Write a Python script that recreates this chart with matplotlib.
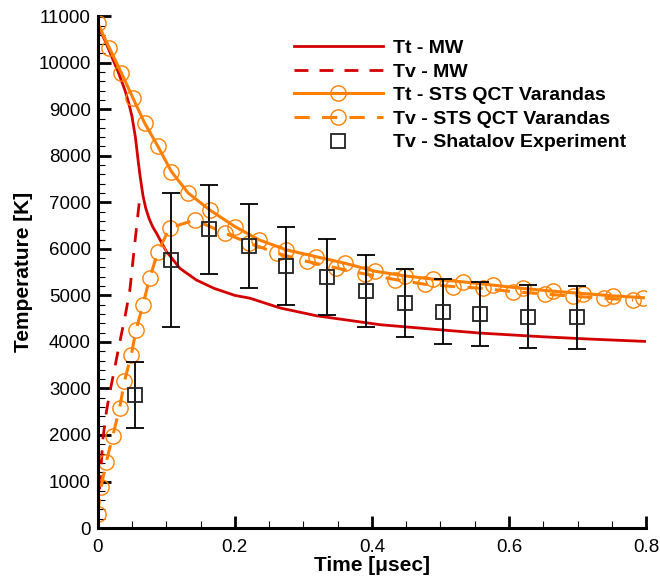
import numpy as np
import matplotlib
matplotlib.use('Agg')
import matplotlib.pyplot as plt
from matplotlib.ticker import MultipleLocator

plt.rcParams['font.family'] = ['Liberation Sans', 'DejaVu Sans']

# Tt - MW (solid red)
t_tt_mw = [0, 0.01, 0.02, 0.03, 0.04, 0.045, 0.05, 0.055, 0.059, 0.062, 0.066, 0.07, 0.075,
           0.08, 0.086, 0.1, 0.12, 0.144, 0.17, 0.2, 0.222, 0.266, 0.32, 0.412, 0.5, 0.558,
           0.65, 0.72, 0.8]
T_tt_mw = [10800, 10500, 10150, 9800, 9400, 9150, 8850, 8400, 7900, 7550, 7150, 6880, 6650,
           6480, 6330, 5950, 5580, 5330, 5150, 5000, 4940, 4730, 4560, 4370, 4260, 4190,
           4110, 4060, 4010]

# Tv - MW (dashed red)
t_tv_mw = [0, 0.003, 0.0054, 0.0078, 0.0127, 0.0175, 0.025, 0.032, 0.04, 0.047, 0.054, 0.061, 0.065]
T_tv_mw = [300, 890, 1430, 1940, 2500, 2900, 3450, 3980, 4550, 5120, 6100, 7050, 7150]

# Tt - STS QCT Varandas (solid orange, circles)
t_tt_var = [0, 0.017, 0.0346, 0.0515, 0.0686, 0.088, 0.1076, 0.132, 0.164, 0.2, 0.236, 0.275,
            0.319, 0.361, 0.404, 0.448, 0.489, 0.533, 0.577, 0.62, 0.664, 0.708, 0.752, 0.796]
T_tt_var = [10850, 10320, 9780, 9240, 8700, 8200, 7660, 7200, 6830, 6480, 6190, 5980,
            5830, 5690, 5520, 5420, 5350, 5290, 5220, 5150, 5090, 5040, 4990, 4950]

# Tv - STS QCT Varandas (dashed orange, circles)
t_tv_var = [0, 0.005, 0.0127, 0.022, 0.032, 0.039, 0.049, 0.056, 0.066, 0.076, 0.088, 0.105,
            0.142, 0.185, 0.22, 0.261, 0.305, 0.348, 0.39, 0.434, 0.477, 0.519, 0.5625,
            0.606, 0.6526, 0.694, 0.738, 0.781]
T_tv_var = [300, 890, 1430, 1980, 2580, 3150, 3720, 4260, 4800, 5380, 5940, 6450,
            6620, 6340, 6130, 5910, 5730, 5590, 5460, 5340, 5240, 5190, 5150,
            5080, 5030, 4980, 4940, 4900]

# Tv - Shatalov Experiment
t_exp = [0.055, 0.107, 0.162, 0.22, 0.275, 0.334, 0.392, 0.448, 0.503, 0.558, 0.628, 0.699]
T_exp = [2860, 5760, 6420, 6060, 5630, 5400, 5100, 4830, 4650, 4600, 4545, 4525]
T_err = [710, 1440, 957, 906, 842, 813, 770, 727, 700, 680, 680, 680]

red = '#d40000'
orange = '#ff8000'

fig = plt.figure(figsize=(6.6, 5.79), dpi=100)
ax = fig.add_axes([0.148, 0.088, 0.831, 0.884])

ax.plot(t_tt_mw, T_tt_mw, color=red, lw=2, label='Tt - MW')
ax.plot(t_tv_mw, T_tv_mw, color=red, lw=2, dashes=(5, 4), label='Tv - MW')
ax.plot(t_tt_var, T_tt_var, color=orange, lw=2.2, marker='o', ms=11,
        mfc='none', mec=orange, mew=1, label='Tt - STS QCT Varandas')
ax.plot(t_tv_var, T_tv_var, color=orange, lw=2.2, dashes=(5, 4), marker='o', ms=11,
        mfc='none', mec=orange, mew=1, label='Tv - STS QCT Varandas')
ax.errorbar(t_exp, T_exp, yerr=T_err, fmt='none', ecolor='black', elinewidth=1.3,
            capsize=6.5, capthick=1.3)
ax.plot(t_exp, T_exp, ls='none', marker='s', ms=9.5, mfc='none', mec='#222222',
        mew=1.3, label='Tv - Shatalov Experiment')

ax.set_xlim(0, 0.8)
ax.set_ylim(0, 11000)
ax.set_xticks([0, 0.2, 0.4, 0.6, 0.8])
ax.set_xticklabels(['0', '0.2', '0.4', '0.6', '0.8'])
ax.xaxis.set_minor_locator(MultipleLocator(0.05))
ax.yaxis.set_major_locator(MultipleLocator(1000))
ax.yaxis.set_minor_locator(MultipleLocator(200))

for s in ['top', 'right']:
    ax.spines[s].set_visible(False)
for s in ['left', 'bottom']:
    ax.spines[s].set_linewidth(2.2)

ax.tick_params(which='major', direction='in', length=9, width=2, labelsize=13.5)
ax.tick_params(axis='x', which='major', pad=8)
ax.tick_params(axis='y', which='major', pad=5)
ax.tick_params(which='minor', direction='in', length=5, width=0.8)

ax.set_xlabel('Time [\u03bcsec]', fontsize=15, fontweight='bold', labelpad=0)
ax.set_ylabel('Temperature [K]', fontsize=15, fontweight='bold', labelpad=4)

ax.legend(loc='upper left', bbox_to_anchor=(0.43, 0.949), bbox_transform=fig.transFigure,
          frameon=False, handlelength=4.6, handletextpad=0.5, labelspacing=0.31,
          borderpad=0, prop={'weight': 'bold', 'size': 14})

fig.savefig('out.png', dpi=100)
